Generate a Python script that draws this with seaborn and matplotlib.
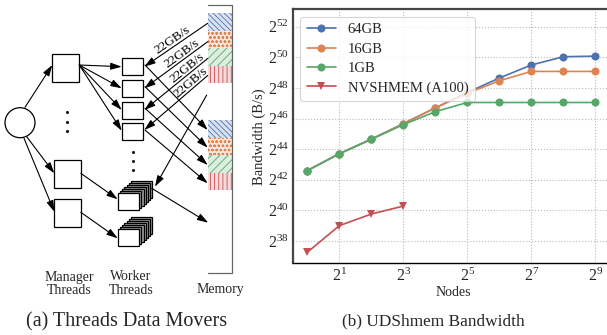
import numpy as np
import pandas as pd
import seaborn as sns
import matplotlib
matplotlib.use("Agg")
import matplotlib.pyplot as plt
from matplotlib.patches import Rectangle, Circle
from matplotlib.ticker import FixedLocator, FuncFormatter, NullLocator
import math

# ---------------- data (panel b) ----------------
nodes = [1, 2, 4, 8, 16, 32, 64, 128, 256, 512]
exp_64gb = [42.6, 43.7, 44.65, 45.67, 46.7, 47.7, 48.65, 49.5, 50.04, 50.08]
exp_16gb = [42.6, 43.7, 44.65, 45.65, 46.7, 47.65, 48.47, 49.08, 49.08, 49.08]
exp_1gb = [42.6, 43.7, 44.65, 45.6, 46.45, 47.05, 47.05, 47.05, 47.05, 47.05]
nvs_nodes = [1, 2, 4, 8]
exp_nvs = [37.26, 39.0, 39.76, 40.28]
series_names = ["64GB", "16GB", "1GB", "NVSHMEM (A100)"]
x_tick_exps = [1, 3, 5, 7, 9]
y_tick_exps = [38, 40, 42, 44, 46, 48, 50, 52]

rows = []
for name, xs, ys in [("64GB", nodes, exp_64gb), ("16GB", nodes, exp_16gb),
                     ("1GB", nodes, exp_1gb), ("NVSHMEM (A100)", nvs_nodes, exp_nvs)]:
    for x, e in zip(xs, ys):
        rows.append({"Nodes": x, "bw": 2.0 ** e, "series": name})
df = pd.DataFrame(rows)

sns.set_theme(style="whitegrid")
plt.rcParams["font.family"] = ["Liberation Serif", "DejaVu Serif"]
plt.rcParams["mathtext.fontset"] = "custom"
plt.rcParams["mathtext.rm"] = "Liberation Serif"
plt.rcParams["mathtext.it"] = "Liberation Serif:italic"
plt.rcParams["hatch.linewidth"] = 0.6

W, H = 607, 335
fig = plt.figure(figsize=(W / 100, H / 100), dpi=100)

# ---------------- panel (a): diagram in pixel coords ----------------
ax0 = fig.add_axes([0, 0, 1, 1])
ax0.set_xlim(0, W)
ax0.set_ylim(H, 0)
ax0.axis("off")

def arrow(p0, p1):
    ax0.annotate("", xy=p1, xytext=p0,
                 arrowprops=dict(arrowstyle="-|>,head_length=1.1,head_width=0.35",
                                 mutation_scale=6, color="black", lw=0.8,
                                 shrinkA=0, shrinkB=0))

def box(x, y, w, h, fc="white"):
    ax0.add_patch(Rectangle((x, y), w, h, facecolor=fc, edgecolor="black", lw=0.9))

# source circle
ax0.add_patch(Circle((20, 122.7), 15, facecolor="white", edgecolor="black", lw=0.9))
# manager boxes
box(52.3, 54, 27, 27.5)
box(54.3, 160, 26.5, 27.5)
box(54.3, 199, 26.5, 27.5)
for yy in (112, 122, 131):
    ax0.plot(66.7, yy, "k.", ms=2.5)
# worker boxes
for yy in (58.3, 80, 101.7, 123.3):
    box(121.7, yy, 21.5, 17)
for yy in (151.7, 160.7, 170):
    ax0.plot(133.3, yy, "k.", ms=2.5)
# stacks
for fx, fy in ((117.7, 192.7), (117.7, 229.3)):
    n = 7
    for i in range(n - 1, -1, -1):
        box(fx + i * 2.2, fy - i * 2.0, 21.5, 17, fc="white" if i == 0 else "#9a9a9a")

# memory bracket
ax0.plot([208.3, 231.7, 231.7, 208.3], [5, 5, 273, 273], color="#666666", lw=0.9)
mem_cols = ["#4C72B0", "#DD8452", "#55A868", "#C44E52"]
mem_hatch = ["\\\\\\\\\\\\", "oooo", "////", "||||"]
for gy in (13.3, 120):
    for k in range(4):
        ax0.add_patch(Rectangle((208.3, gy + k * 17.5), 23.4, 17.5,
                                facecolor=matplotlib.colors.to_rgba(mem_cols[k], 0.2),
                                edgecolor=mem_cols[k], lw=0, hatch=mem_hatch[k]))

# arrows: circle -> managers
arrow((25, 107.3), (52.3, 65))
arrow((26.7, 136.7), (54.3, 173.3))
arrow((24, 138.3), (54.3, 211.7))
# manager1 -> workers
for ty in (66.7, 88.3, 110, 130.7):
    arrow((79.3, 65), (121.7, ty))
arrow((80.8, 173.3), (117.7, 199.3))
arrow((80.8, 212.3), (117.7, 238.3))
# memory -> workers with labels
src = [(207.7, 23.3), (207.7, 41.7), (207.7, 58.5), (207.7, 75.5)]
dst = [(144.3, 66.7), (144.3, 88.3), (144.3, 110), (144.3, 130)]
label_t = [0.50, 0.65, 0.73, 0.79]
for (sx, sy), (dx, dy), t in zip(src, dst, label_t):
    arrow((sx, sy), (dx, dy))
    ang = math.degrees(math.atan2(dy - sy, sx - dx))
    mx, my = dx + (sx - dx) * t, dy + (sy - dy) * t
    ax0.text(mx, my, "22GB/s", rotation=ang, rotation_mode="anchor",
             ha="center", va="bottom", fontsize=9.5, color="black")
arrow((206.7, 95), (155, 186.7))
# workers -> memory group 2
for (sy, ty) in ((65, 130), (86.7, 147.7), (108.3, 165), (130, 183.3)):
    arrow((145, sy), (207.7, ty))
arrow((151.7, 188.3), (208.3, 222.7))

ax0.text(69, 283.5, "Manager\nThreads", ha="center", va="center", fontsize=10, linespacing=1.0)
ax0.text(131, 283.5, "Worker\nThreads", ha="center", va="center", fontsize=10, linespacing=1.0)
ax0.text(220, 290, "Memory", ha="center", va="center", fontsize=10)
ax0.text(127, 321.7, "(a) Threads Data Movers", ha="center", va="center", fontsize=14.5)
ax0.text(433, 321.7, "(b) UDShmem Bandwidth", ha="center", va="center", fontsize=12.4)

# ---------------- panel (b): seaborn line chart ----------------
ax = fig.add_axes([293 / W, 1 - 263.3 / H, (W - 293) / W + 0.01, (263.3 - 9.3) / H])
palette = {"64GB": "#4C72B0", "16GB": "#DD8452", "1GB": "#55A868", "NVSHMEM (A100)": "#C44E52"}
markers = {"64GB": "o", "16GB": "o", "1GB": "o", "NVSHMEM (A100)": "v"}
sns.lineplot(data=df, x="Nodes", y="bw", hue="series", style="series",
             hue_order=series_names, style_order=series_names,
             palette=palette, markers=markers, dashes=False,
             markersize=5.8, markeredgewidth=0, linewidth=1.2, ax=ax)
ax.set_xscale("log", base=2)
ax.set_yscale("log", base=2)
ax.set_xlim(2 ** -0.447, 2 ** 9.553)
ax.set_ylim(2 ** 36.54, 2 ** 53.14)
ax.xaxis.set_major_locator(FixedLocator([2.0 ** e for e in x_tick_exps]))
ax.yaxis.set_major_locator(FixedLocator([2.0 ** e for e in y_tick_exps]))
ax.xaxis.set_minor_locator(NullLocator())
ax.yaxis.set_minor_locator(NullLocator())
fmt = FuncFormatter(lambda v, p: r"$2^{%d}$" % round(math.log2(v)))
ax.xaxis.set_major_formatter(fmt)
ax.yaxis.set_major_formatter(fmt)
ax.tick_params(axis="both", labelsize=11.5, length=2, width=0.8, pad=1, color="#333333")
ax.grid(True, linestyle=":", color="#bbbbbb", linewidth=0.8)
ax.set_facecolor("white")
ax.set_xlabel("Nodes", fontsize=10, labelpad=1)
ax.set_ylabel("Bandwidth (B/s)", fontsize=10.5, labelpad=1)
for s in ("left", "top"):
    ax.spines[s].set_color("#444444")
    ax.spines[s].set_linewidth(1.6)
ax.spines["bottom"].set_color("black")
ax.spines["bottom"].set_linewidth(1.0)
ax.spines["right"].set_visible(False)
leg = ax.legend(loc="upper left", fontsize=10.5, frameon=True, borderpad=0.45,
                handlelength=2.0, handletextpad=0.8, labelspacing=0.42,
                bbox_to_anchor=(0.0, 1.0))
leg.get_frame().set_edgecolor("#cccccc")
leg.get_frame().set_linewidth(0.8)
for h in leg.legend_handles:
    h.set_markersize(5.8)

fig.savefig("out.png", dpi=100)
